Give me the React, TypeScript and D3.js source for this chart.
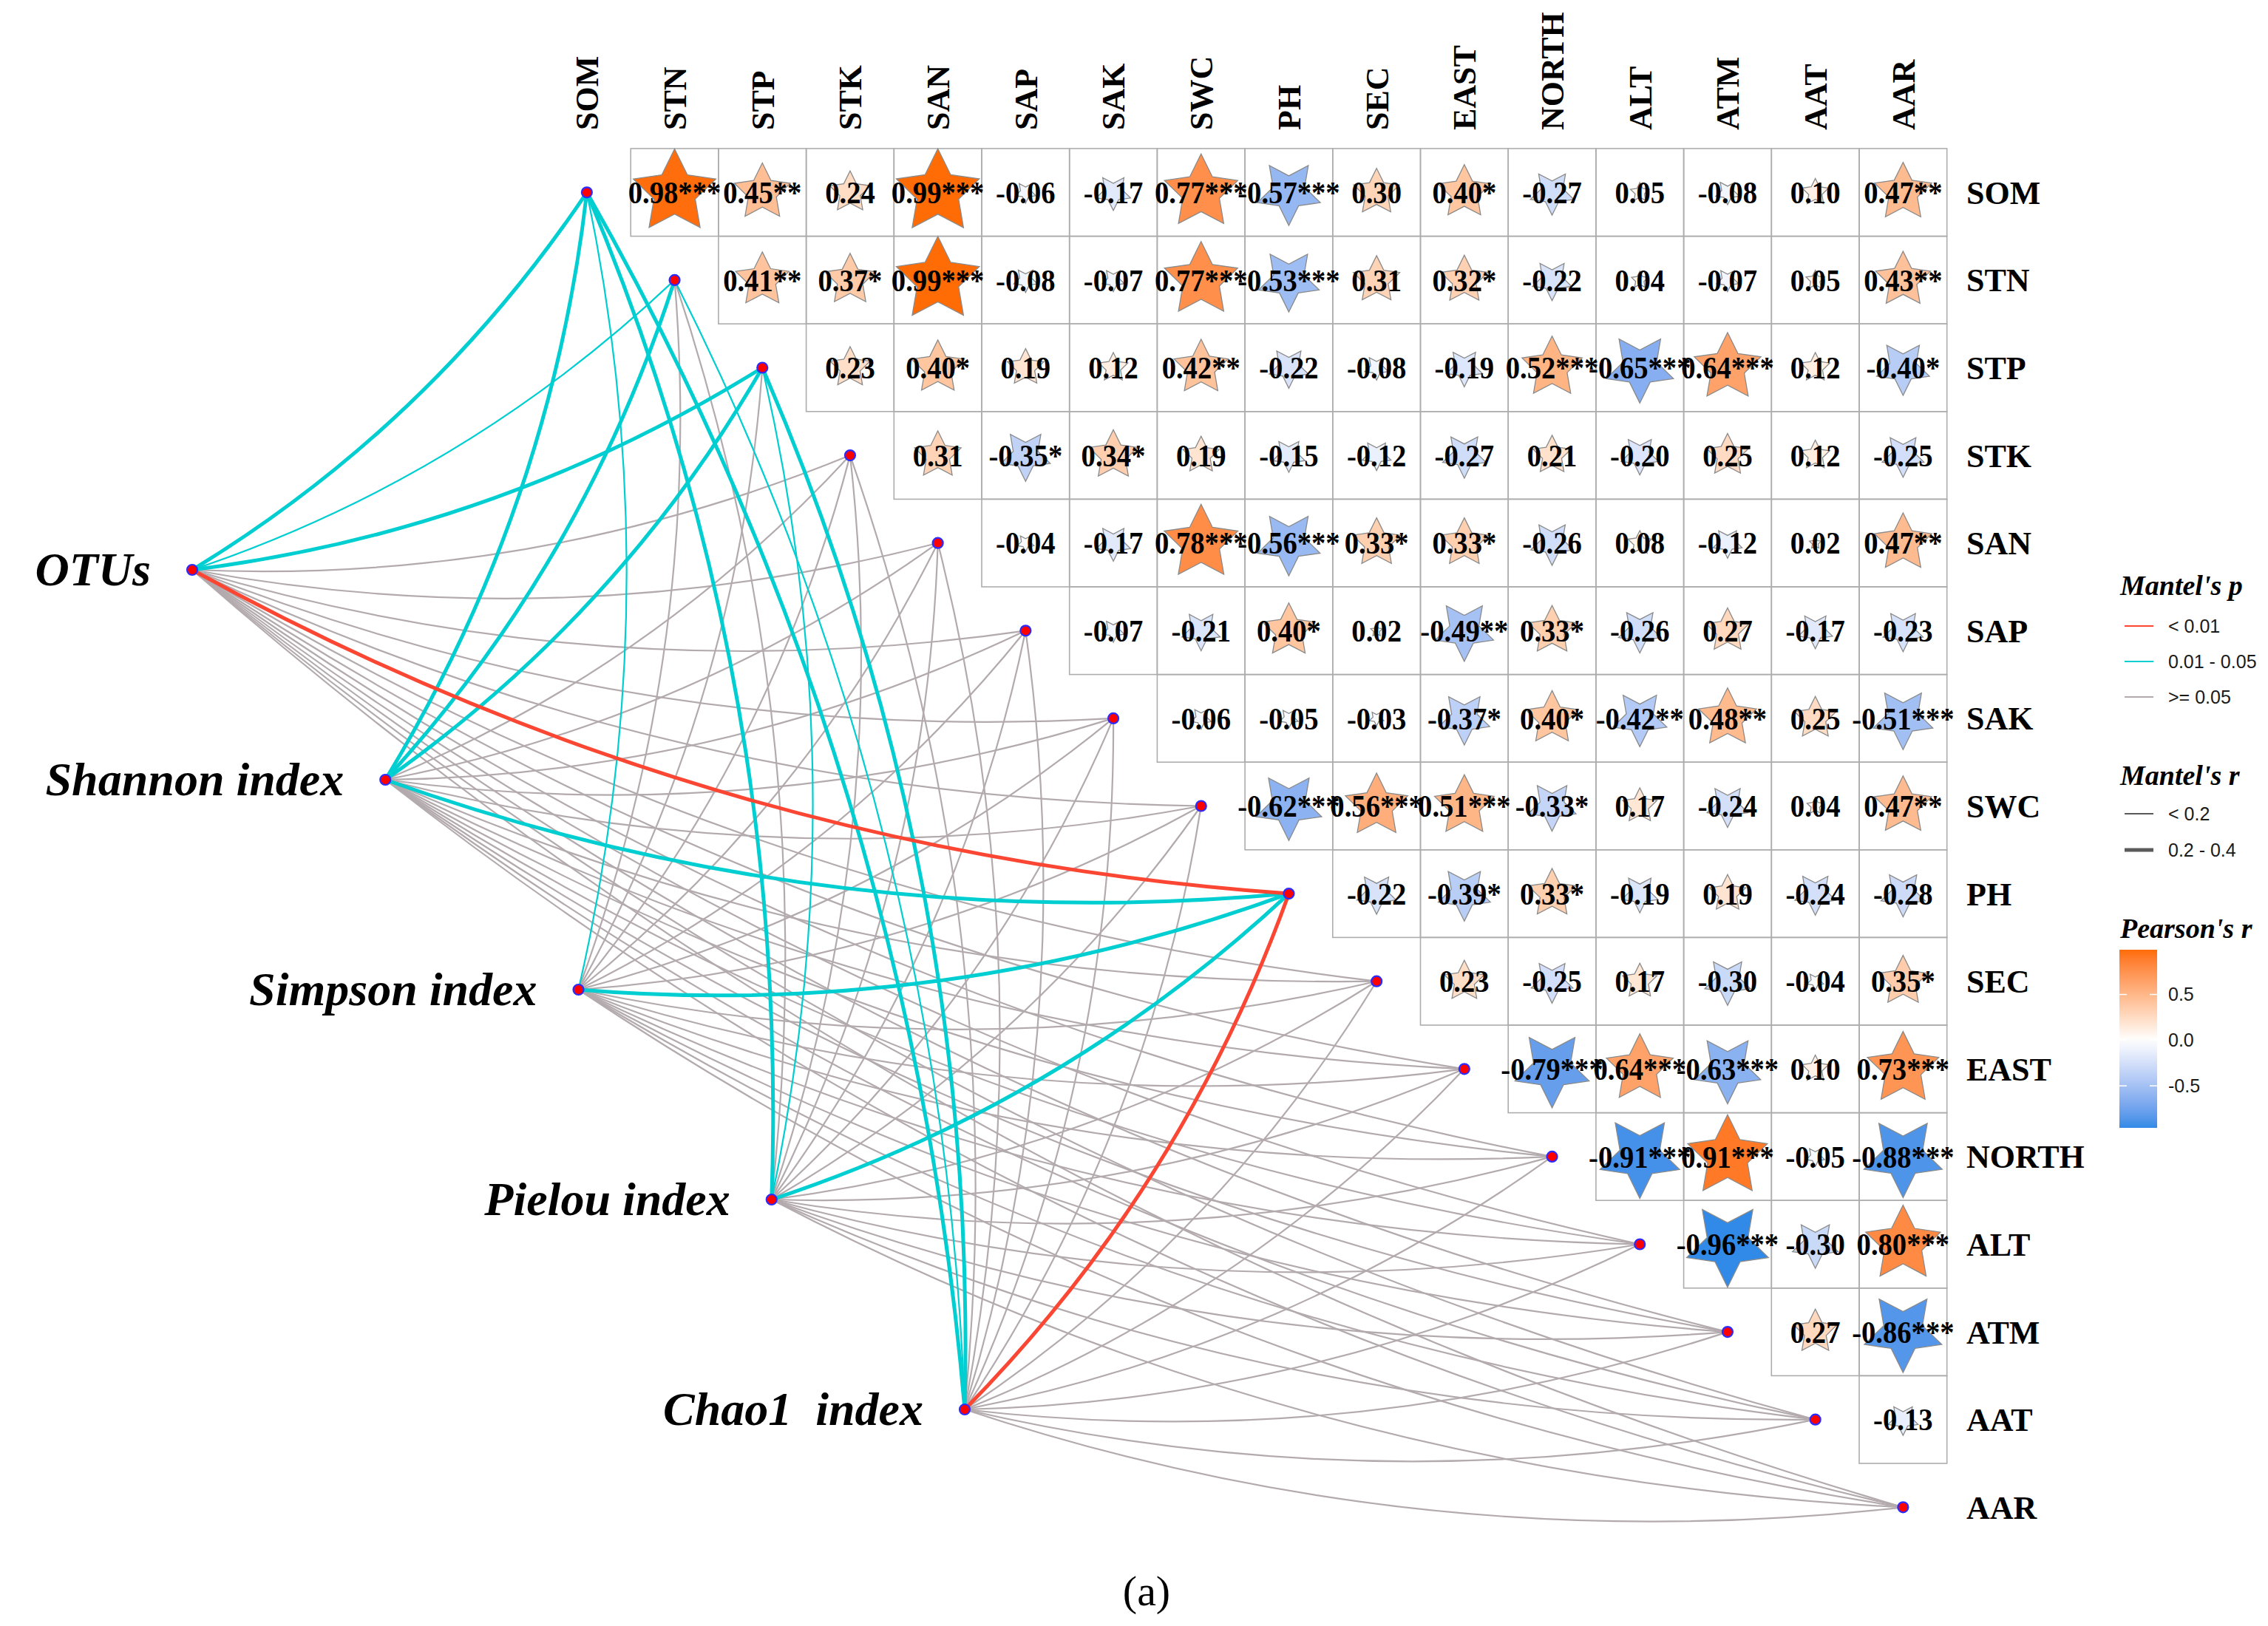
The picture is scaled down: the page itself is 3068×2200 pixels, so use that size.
import { useEffect, useRef } from 'react'
import * as d3 from 'd3'

const W = 3068
const H = 2200

const variables = ['SOM', 'STN', 'STP', 'STK', 'SAN', 'SAP', 'SAK', 'SWC', 'PH', 'SEC', 'EAST', 'NORTH', 'ALT', 'ATM', 'AAT', 'AAR']

// Pearson's r, upper triangle: row i holds columns i+1 .. end
const corrRows = [
	[0.98, 0.45, 0.24, 0.99, -0.06, -0.17, 0.77, -0.57, 0.3, 0.4, -0.27, 0.05, -0.08, 0.1, 0.47],
	[0.41, 0.37, 0.99, -0.08, -0.07, 0.77, -0.53, 0.31, 0.32, -0.22, 0.04, -0.07, 0.05, 0.43],
	[0.23, 0.4, 0.19, 0.12, 0.42, -0.22, -0.08, -0.19, 0.52, -0.65, 0.64, 0.12, -0.4],
	[0.31, -0.35, 0.34, 0.19, -0.15, -0.12, -0.27, 0.21, -0.2, 0.25, 0.12, -0.25],
	[-0.04, -0.17, 0.78, -0.56, 0.33, 0.33, -0.26, 0.08, -0.12, 0.02, 0.47],
	[-0.07, -0.21, 0.4, 0.02, -0.49, 0.33, -0.26, 0.27, -0.17, -0.23],
	[-0.06, -0.05, -0.03, -0.37, 0.4, -0.42, 0.48, 0.25, -0.51],
	[-0.62, 0.56, 0.51, -0.33, 0.17, -0.24, 0.04, 0.47],
	[-0.22, -0.39, 0.33, -0.19, 0.19, -0.24, -0.28],
	[0.23, -0.25, 0.17, -0.3, -0.04, 0.35],
	[-0.79, 0.64, -0.63, 0.1, 0.73],
	[-0.91, 0.91, -0.05, -0.88],
	[-0.96, -0.3, 0.8],
	[0.27, -0.86],
	[-0.13],
]

// number of significance asterisks, same layout as corrRows
const sigRows = [
	[3, 2, 0, 3, 0, 0, 3, 3, 0, 1, 0, 0, 0, 0, 2],
	[2, 1, 3, 0, 0, 3, 3, 0, 1, 0, 0, 0, 0, 2],
	[0, 1, 0, 0, 2, 0, 0, 0, 3, 3, 3, 0, 1],
	[0, 1, 1, 0, 0, 0, 0, 0, 0, 0, 0, 0],
	[0, 0, 3, 3, 1, 1, 0, 0, 0, 0, 2],
	[0, 0, 1, 0, 2, 1, 0, 0, 0, 0],
	[0, 0, 0, 1, 1, 2, 2, 0, 3],
	[3, 3, 3, 1, 0, 0, 0, 2],
	[0, 1, 1, 0, 0, 0, 0],
	[0, 0, 0, 0, 0, 1],
	[3, 3, 3, 0, 3],
	[3, 3, 0, 3],
	[3, 0, 3],
	[0, 3],
	[0],
]

const indices = ['OTUs', 'Shannon index', 'Simpson index', 'Pielou index', 'Chao1  index']

// Mantel's p class per index x variable: 0 '< 0.01', 1 '0.01 - 0.05', 2 '>= 0.05'
const mantelP = [
	[1, 1, 1, 2, 2, 2, 2, 2, 0, 2, 2, 2, 2, 2, 2, 2],
	[1, 1, 1, 2, 2, 2, 2, 2, 1, 2, 2, 2, 2, 2, 2, 2],
	[1, 2, 2, 2, 2, 2, 2, 2, 1, 2, 2, 2, 2, 2, 2, 2],
	[1, 2, 1, 2, 2, 2, 2, 2, 1, 2, 2, 2, 2, 2, 2, 2],
	[1, 1, 1, 2, 2, 2, 2, 2, 0, 2, 2, 2, 2, 2, 2, 2],
]

// Mantel's r class: 0 '< 0.2', 1 '0.2 - 0.4'
const mantelR = [
	[1, 0, 1, 0, 0, 0, 0, 0, 1, 0, 0, 0, 0, 0, 0, 0],
	[1, 1, 1, 0, 0, 0, 0, 0, 1, 0, 0, 0, 0, 0, 0, 0],
	[0, 0, 0, 0, 0, 0, 0, 0, 1, 0, 0, 0, 0, 0, 0, 0],
	[1, 0, 0, 0, 0, 0, 0, 0, 1, 0, 0, 0, 0, 0, 0, 0],
	[1, 0, 1, 0, 0, 0, 0, 0, 1, 0, 0, 0, 0, 0, 0, 0],
]

const pLabels = ['< 0.01', '0.01 - 0.05', '>= 0.05']
const pColors = ['#fa4632', '#00ced1', '#b3aaad']
const rLabels = ['< 0.2', '0.2 - 0.4']
const rWidths = [2.2, 5]
const colorTicks = [0.5, 0.0, -0.5]

const SERIF = "'Liberation Serif', 'Times New Roman', serif"
const SANS = "'Liberation Sans', Arial, sans-serif"

const App = () => {
	const svgRef = useRef<SVGSVGElement>(null)

	useEffect(() => {
		const svg = d3.select(svgRef.current)
		svg.selectAll('*').remove()

		// matrix scales
		const x = d3.scaleBand().domain(variables).range([734.5, 2633.7])
		const y = d3.scaleBand().domain(variables).range([201, 2098.6])
		const bw = x.bandwidth()
		const bh = y.bandwidth()
		const cx = (v) => x(v) + bw / 2
		const cy = (v) => y(v) + bh / 2

		// diversity index nodes along a diagonal
		const ix = d3.scalePoint().domain(indices).range([260, 1305])
		const iy = d3.scalePoint().domain(indices).range([771, 1907])

		const rad = d3.scaleSqrt().domain([0, 1]).range([0, bw / 2])
		const fill = d3
			.scaleLinear<string>()
			.domain([-1, 0, 1])
			.range(['#1a86e6', '#ffffff', '#ff6a00'])
			.interpolate(d3.interpolateLab)

		const star = (r, down) =>
			d3
				.lineRadial<number>()
				.angle((k) => (k * Math.PI) / 5 + (down ? Math.PI : 0))
				.radius((k) => (k % 2 === 0 ? r : r * 0.5))
				.curve(d3.curveLinearClosed)(d3.range(10))

		// ---- edges (Mantel) ----
		const edges = []
		indices.forEach((name, i) => {
			variables.forEach((v, j) => {
				edges.push({ a: [ix(name), iy(name)], b: [cx(v), cy(v)], p: mantelP[i][j], r: mantelR[i][j] })
			})
		})
		edges.sort((e1, e2) => e2.p - e1.p)

		// bend each link to the right of its direction
		const curve = (a, b) => {
			const dx = b[0] - a[0]
			const dy = b[1] - a[1]
			const k = 0.11
			const p = d3.path()
			p.moveTo(a[0], a[1])
			p.quadraticCurveTo((a[0] + b[0]) / 2 - dy * k, (a[1] + b[1]) / 2 + dx * k, b[0], b[1])
			return p.toString()
		}

		svg
			.append('g')
			.selectAll('path')
			.data(edges)
			.enter()
			.append('path')
			.attr('d', (d) => curve(d.a, d.b))
			.attr('fill', 'none')
			.attr('stroke', (d) => pColors[d.p])
			.attr('stroke-width', (d) => rWidths[d.r])
			.attr('stroke-linecap', 'round')

		// ---- correlation cells ----
		const cells = []
		corrRows.forEach((row, i) => {
			row.forEach((val, k) => {
				const j = i + 1 + k
				cells.push({ row: variables[i], col: variables[j], val, sig: sigRows[i][k] })
			})
		})

		const cellG = svg.append('g')
		cellG
			.selectAll('rect')
			.data(cells)
			.enter()
			.append('rect')
			.attr('x', (d) => x(d.col))
			.attr('y', (d) => y(d.row))
			.attr('width', bw)
			.attr('height', bh)
			.attr('fill', 'none')
			.attr('stroke', '#adadad')
			.attr('stroke-width', 1.6)

		cellG
			.selectAll('path')
			.data(cells)
			.enter()
			.append('path')
			.attr('transform', (d) => `translate(${cx(d.col)},${cy(d.row)})`)
			.attr('d', (d) => star(rad(Math.abs(d.val)), d.val < 0))
			.attr('fill', (d) => fill(d.val))
			.attr('stroke', '#8a8a8a')
			.attr('stroke-width', 1.3)

		cellG
			.selectAll('text')
			.data(cells)
			.enter()
			.append('text')
			.attr('transform', (d) => `translate(${cx(d.col)},${cy(d.row)}) scale(0.92,1)`)
			.attr('dy', '0.35em')
			.attr('text-anchor', 'middle')
			.style('font-family', SERIF)
			.style('font-weight', 'bold')
			.style('font-size', '42px')
			.style('fill', '#000')
			.text((d) => d.val.toFixed(2) + '*'.repeat(d.sig))

		// ---- axis labels ----
		svg
			.append('g')
			.selectAll('text')
			.data(variables)
			.enter()
			.append('text')
			.attr('transform', (d) => `translate(${cx(d)},176) rotate(-90)`)
			.attr('dy', '0.35em')
			.attr('text-anchor', 'start')
			.style('font-family', SERIF)
			.style('font-weight', 'bold')
			.style('font-size', '44px')
			.text((d) => d)

		svg
			.append('g')
			.selectAll('text')
			.data(variables)
			.enter()
			.append('text')
			.attr('x', 2660)
			.attr('y', (d) => cy(d))
			.attr('dy', '0.35em')
			.style('font-family', SERIF)
			.style('font-weight', 'bold')
			.style('font-size', '44px')
			.text((d) => d)

		// ---- nodes ----
		const nodes = variables.map((v) => [cx(v), cy(v)]).concat(indices.map((n) => [ix(n), iy(n)]))
		svg
			.append('g')
			.selectAll('circle')
			.data(nodes)
			.enter()
			.append('circle')
			.attr('cx', (d) => d[0])
			.attr('cy', (d) => d[1])
			.attr('r', 7)
			.attr('fill', '#ff0000')
			.attr('stroke', '#2b2bff')
			.attr('stroke-width', 2.2)

		svg
			.append('g')
			.selectAll('text')
			.data(indices)
			.enter()
			.append('text')
			.attr('x', (d) => ix(d) - 56)
			.attr('y', (d) => iy(d))
			.attr('dy', '0.33em')
			.attr('text-anchor', 'end')
			.style('font-family', SERIF)
			.style('font-weight', 'bold')
			.style('font-style', 'italic')
			.style('font-size', '64px')
			.style('white-space', 'pre')
			.text((d) => d)

		// ---- legends ----
		const lg = svg.append('g')
		const title = (t, ty) =>
			lg
				.append('text')
				.attr('x', 2868)
				.attr('y', ty)
				.attr('dy', '0.35em')
				.style('font-family', SERIF)
				.style('font-weight', 'bold')
				.style('font-style', 'italic')
				.style('font-size', '38px')
				.text(t)
		const item = (t, ty) =>
			lg
				.append('text')
				.attr('x', 2933)
				.attr('y', ty)
				.attr('dy', '0.35em')
				.style('font-family', SANS)
				.style('font-size', '25px')
				.style('fill', '#1a1a1a')
				.text(t)

		title("Mantel's p", 792)
		pLabels.forEach((t, i) => {
			const ty = 847 + i * 48
			lg.append('line').attr('x1', 2874).attr('x2', 2913).attr('y1', ty).attr('y2', ty).attr('stroke', pColors[i]).attr('stroke-width', 2)
			item(t, ty)
		})

		title("Mantel's r", 1049)
		rLabels.forEach((t, i) => {
			const ty = 1101 + i * 49
			lg.append('line').attr('x1', 2874).attr('x2', 2913).attr('y1', ty).attr('y2', ty).attr('stroke', '#5a5a5a').attr('stroke-width', rWidths[i])
			item(t, ty)
		})

		title("Pearson's r", 1256)
		const cb = d3.scaleLinear().domain([-0.96, 0.99]).range([1526, 1285])
		const grad = svg.append('defs').append('linearGradient').attr('id', 'cbar').attr('x1', 0).attr('x2', 0).attr('y1', 0).attr('y2', 1)
		d3.range(0, 1.0001, 0.05).forEach((t) => {
			grad.append('stop').attr('offset', t).attr('stop-color', fill(cb.invert(1285 + t * 241)))
		})
		lg.append('rect').attr('x', 2867).attr('y', 1285).attr('width', 51).attr('height', 241).attr('fill', 'url(#cbar)')
		colorTicks.forEach((v) => {
			lg.append('line').attr('x1', 2867).attr('x2', 2877).attr('y1', cb(v)).attr('y2', cb(v)).attr('stroke', '#fff').attr('stroke-width', 1.5)
			lg.append('line').attr('x1', 2908).attr('x2', 2918).attr('y1', cb(v)).attr('y2', cb(v)).attr('stroke', '#fff').attr('stroke-width', 1.5)
			item(v.toFixed(1), cb(v))
		})

		// panel tag
		svg
			.append('text')
			.attr('x', 1551)
			.attr('y', 2152)
			.attr('dy', '0.35em')
			.attr('text-anchor', 'middle')
			.style('font-family', SERIF)
			.style('font-size', '58px')
			.text('(a)')
	}, [])

	return <svg ref={svgRef} width={W} height={H} style={{ position: 'absolute', left: 0, top: 0, background: '#fff' }}></svg>
}

export default App
